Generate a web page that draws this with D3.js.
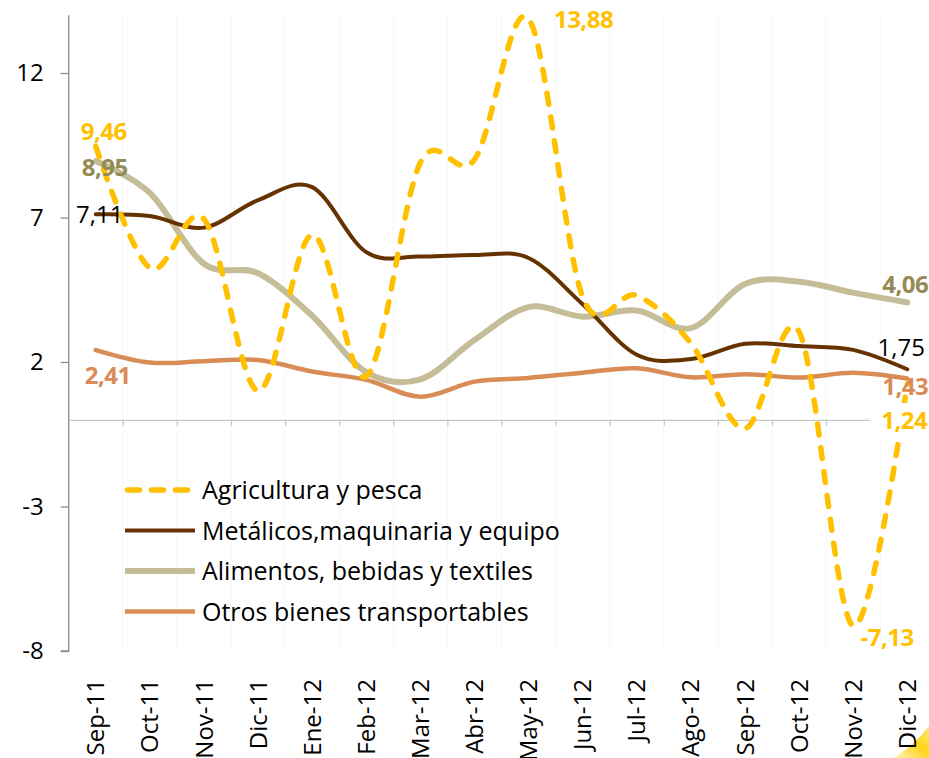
<!DOCTYPE html>
<html>
<head>
<meta charset="utf-8">
<script src="https://cdn.jsdelivr.net/npm/d3@7/dist/d3.min.js"></script>
<style>
  html, body { margin: 0; padding: 0; background: #ffffff; }
  svg { display: block; font-family: "Open Sans", sans-serif; }
</style>
</head>
<body>
<svg id="chart" width="929" height="758"></svg>
<script>
// Months on the horizontal axis
const months = ["Sep-11","Oct-11","Nov-11","Dic-11","Ene-12","Feb-12","Mar-12","Abr-12",
                "May-12","Jun-12","Jul-12","Ago-12","Sep-12","Oct-12","Nov-12","Dic-12"];

// Annual variation (%) by product group
const agricultura = [9.46, 5.25, 6.95, 1.0, 6.4, 1.5, 8.9, 9.0, 13.88, 4.25, 4.3, 2.65, -0.3, 3.05, -7.13, 1.24];
const metalicos   = [7.11, 7.05, 6.65, 7.6, 8.05, 5.8, 5.65, 5.7, 5.6, 4.0, 2.25, 2.1, 2.63, 2.55, 2.42, 1.75];
const alimentos   = [8.95, 7.85, 5.4, 5.07, 3.6, 1.65, 1.4, 2.76, 3.9, 3.57, 3.78, 3.17, 4.7, 4.78, 4.4, 4.06];
const otros       = [2.41, 1.98, 2.03, 2.07, 1.67, 1.38, 0.8, 1.32, 1.45, 1.63, 1.78, 1.47, 1.58, 1.46, 1.63, 1.43];

const yTicks = [-8, -3, 2, 7, 12];

const seriesNames = ["Agricultura y pesca", "Metálicos,maquinaria y equipo",
                     "Alimentos, bebidas y textiles", "Otros bienes transportables"];

const series = [
  { name: seriesNames[0], values: agricultura, color: "#FFC000", width: 5.5, dash: "11 13", labelColor: "#FFC000" },
  { name: seriesNames[1], values: metalicos,   color: "#663300", width: 4,   dash: null,   labelColor: "#000000" },
  { name: seriesNames[2], values: alimentos,   color: "#C4BD97", width: 6,   dash: null,   labelColor: "#948A54" },
  { name: seriesNames[3], values: otros,       color: "#D98C55", width: 4.5, dash: null,   labelColor: "#D98C55" }
];

const FONT = "'Open Sans', sans-serif";
const svg = d3.select("#chart");

const x = d3.scaleBand().domain(months).range([68.7, 934.3]).padding(0);
const xEdge = d3.scaleLinear().domain([0, months.length]).range([68.7, 934.3]);
const y = d3.scaleLinear().domain([-8, 14]).range([651, 15.2]);
const cx = m => x(m) + x.bandwidth() / 2;
const hyphen = s => String(s).replace("\u2212", "-");

// corner decoration
const defs = svg.append("defs");
const grad = defs.append("linearGradient").attr("id", "corner")
  .attr("x1", "0").attr("y1", "1").attr("x2", "1").attr("y2", "0");
grad.append("stop").attr("offset", "0%").attr("stop-color", "#FFF4C2");
grad.append("stop").attr("offset", "55%").attr("stop-color", "#FFD51A");
grad.append("stop").attr("offset", "100%").attr("stop-color", "#FFE680");
svg.append("path")
  .attr("d", "M893,758 Q912,748 929,726 L929,758 Z")
  .attr("fill", "url(#corner)");

// faint vertical grid at month boundaries
svg.append("g").selectAll("line")
  .data(d3.range(1, months.length))
  .join("line")
  .attr("x1", d => xEdge(d)).attr("x2", d => xEdge(d))
  .attr("y1", y(14)).attr("y2", y(-8))
  .attr("stroke", "#f7f7f7").attr("stroke-width", 1);

// vertical axis
const yAxis = svg.append("g")
  .attr("transform", "translate(68.7,0)")
  .call(d3.axisLeft(y).tickValues(yTicks).tickFormat(d => hyphen(d))
    .tickSize(8).tickPadding(17).tickSizeOuter(0))
  .call(g => g.select(".domain").attr("stroke", "#8c8c8c").attr("stroke-width", 1.3))
  .call(g => g.selectAll(".tick line").attr("stroke", "#8c8c8c").attr("stroke-width", 1.3))
  .call(g => g.selectAll(".tick text")
    .attr("font-family", FONT).attr("font-size", 24).attr("fill", "#000"));
// extend the axis line to the top of the plot
yAxis.select(".domain").attr("d", `M0,${y(14)}V${y(-8)}H-8`);

// horizontal axis at zero with marks at month boundaries
svg.append("g")
  .attr("transform", `translate(0,${y(0)})`)
  .call(d3.axisBottom(xEdge).tickValues(d3.range(1, months.length + 1)).tickFormat("").tickSize(6).tickSizeOuter(0))
  .call(g => g.select(".domain").attr("stroke", "#c8c8c8").attr("stroke-width", 1.3))
  .call(g => g.selectAll(".tick line").attr("stroke", "#c8c8c8").attr("stroke-width", 1.3));

// month labels, rotated, below the plot
svg.append("g")
  .attr("transform", `translate(0,${y(-8)})`)
  .call(d3.axisBottom(x).tickSize(0).tickPadding(0))
  .call(g => g.select(".domain").remove())
  .call(g => g.selectAll(".tick text")
    .attr("font-family", FONT).attr("font-size", 24).attr("fill", "#000")
    .attr("text-anchor", "end")
    .attr("transform", "translate(0,28) rotate(-90)")
    .attr("x", 0).attr("y", 0).attr("dy", "0.36em"));

// lines (drawn so that the dashed series ends on top)
const line = d3.line()
  .x((d, i) => cx(months[i]))
  .y(d => y(d))
  .curve(d3.curveCatmullRom.alpha(0));

svg.append("g").selectAll("path")
  .data(series.slice().reverse())
  .join("path")
  .attr("d", d => line(d.values))
  .attr("fill", "none")
  .attr("stroke", d => d.color)
  .attr("stroke-width", d => d.width)
  .attr("stroke-dasharray", d => d.dash)
  .attr("stroke-linecap", "round")
  .attr("stroke-linejoin", "round");

// value labels
const fmt = v => hyphen(d3.format(".2f")(v)).replace(".", ",");
const last = months.length - 1;
const labels = [
  { s: 0, i: 0,  dx: 8,   dy: -15, bold: true },
  { s: 2, i: 0,  dx: 9,   dy: 6,   bold: true },
  { s: 1, i: 0,  dx: 4,   dy: 0,   bold: false },
  { s: 3, i: 0,  dx: 12,  dy: 25,  bold: true },
  { s: 0, i: 8,  dx: 55,  dy: 1,   bold: true },
  { s: 2, i: last, dx: -2, dy: -18, bold: true },
  { s: 1, i: last, dx: -6, dy: -22, bold: false },
  { s: 3, i: last, dx: -2, dy: 8,  bold: true },
  { s: 0, i: last, dx: -3, dy: 36, bold: true, box: true },
  { s: 0, i: 14, dx: 34,  dy: 12,  bold: true }
];

const lg = svg.append("g");
labels.forEach(l => {
  const sr = series[l.s];
  const v = sr.values[l.i];
  const px = cx(months[l.i]) + l.dx;
  const py = y(v) + l.dy;
  if (l.box) {
    lg.append("rect")
      .attr("x", px - 34).attr("y", py - 17).attr("width", 68).attr("height", 34)
      .attr("fill", "#ffffff");
  }
  lg.append("text")
    .attr("x", px).attr("y", py)
    .attr("text-anchor", "middle").attr("dy", "0.36em")
    .attr("font-family", FONT)
    .attr("font-size", 24)
    .attr("font-weight", l.bold ? "bold" : "normal")
    .attr("letter-spacing", l.bold ? -0.5 : 0)
    .attr("fill", sr.labelColor)
    .text(fmt(v));
});

// legend
const legend = svg.append("g").attr("transform", "translate(125,490)");
const row = legend.selectAll("g").data(series).join("g")
  .attr("transform", (d, i) => `translate(0,${i * 40.5})`);
row.append("line")
  .attr("x1", d => d.dash ? 2.5 : 0).attr("x2", d => d.dash ? 68 : 70)
  .attr("y1", 0).attr("y2", 0)
  .attr("stroke", d => d.color)
  .attr("stroke-width", d => d.width)
  .attr("stroke-dasharray", d => d.dash ? "12 12" : null)
  .attr("stroke-linecap", d => d.dash ? "round" : "butt");
row.append("text")
  .attr("x", 77).attr("y", 0).attr("dy", "0.36em")
  .attr("font-family", FONT).attr("font-size", 25).attr("fill", "#000")
  .text(d => d.name);
</script>
</body>
</html>
